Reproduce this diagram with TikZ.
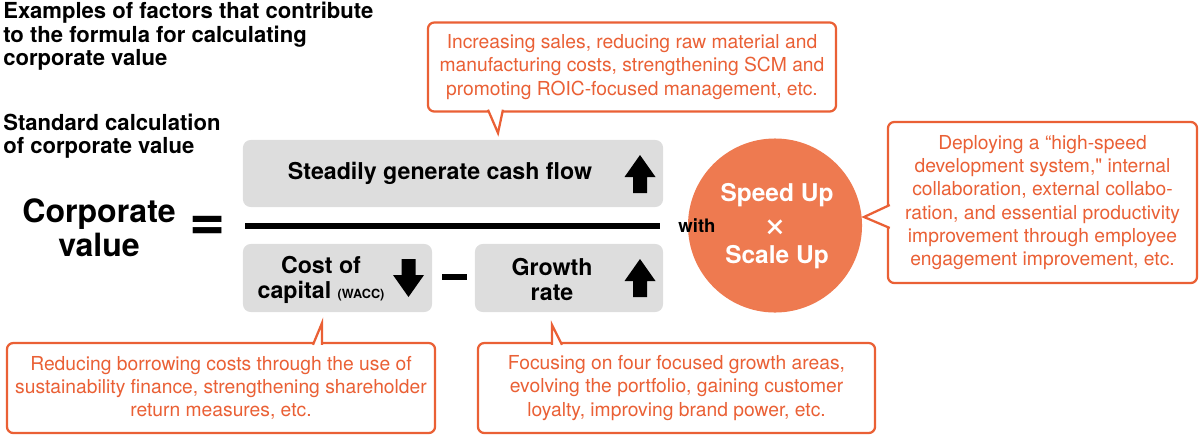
\documentclass[tikz,border=0pt]{standalone}
\usepackage{fontspec}
\setmainfont{TeX Gyre Heros}
\newfontfamily\plainheros{TeX Gyre Heros}
\usetikzlibrary{calc}
\definecolor{noteOrange}{RGB}{234, 96, 53}
\definecolor{discOrange}{RGB}{238, 122, 80}
\definecolor{panelGray}{RGB}{221, 221, 221}

\begin{document}
\begin{tikzpicture}[x=0.025cm, y=-0.025cm,
    panel/.style={fill=panelGray, rounded corners=5.5pt, inner sep=0pt},
    note/.style={draw=noteOrange, line width=1.6pt, fill=white, rounded corners=4.5pt, outer sep=0pt,
      inner sep=0pt, text=noteOrange, align=center, font=\fontsize{13.7}{16.5}\selectfont},
    tail/.style={draw=noteOrange, line width=1.6pt, fill=white, line join=miter},
    heading/.style={anchor=west, align=left, inner sep=0pt, font=\bfseries\fontsize{15.7}{16.7}\selectfont},
    formula/.style={inner sep=0pt, align=center, font=\bfseries\fontsize{16.5}{17.8}\selectfont},
    bar/.style={line width=3.6pt},
    uparrow/.pic={\fill (-7,19) -- (-7,3) -- (-15.5,3) -- (0,-19) -- (15.5,3) -- (7,3) -- (7,19) -- cycle;}]

  \useasboundingbox (0,0) rectangle (1200,435);

  \node[heading] (examples) at (3,36.5) {Examples of factors that contribute\\to the formula for calculating\\corporate value};
  \node[heading] (standard) at (3,136) {Standard calculation\\of corporate value};

  \node[inner sep=0pt, align=center, font=\bfseries\fontsize{22.8}{24}\selectfont] (corpval) at (99,228) {Corporate\\value};
  \node[inner sep=0pt, font=\bfseries\fontsize{44}{44}\selectfont] (eqsign) at (207.5,228) {=};

  \node[panel, minimum width=10.5cm, minimum height=1.675cm] (cashbox) at (453,173.5) {};
  \node[panel, minimum width=4.725cm, minimum height=1.7cm] (costbox) at (337.5,278) {};
  \node[panel, minimum width=4.7cm, minimum height=1.7cm] (growthbox) at (569,278) {};

  \node[formula] (cashtxt) at (440,173) {Steadily generate cash flow};
  \node[formula] (costtxt) at (321,279.5) {Cost of\\capital {\fontsize{9}{9}\selectfont(WACC)}};
  \node[formula] (growthtxt) at (552,279.5) {Growth\\rate};
  \pic at (640,174) {uparrow};
  \pic[yscale=-1] at (408.5,278) {uparrow};
  \pic at (640,278) {uparrow};

  \draw[bar] (245,226) -- (660,226);
  \draw[bar] (442,277) -- (467,277);

  \node[circle, fill=discOrange, minimum size=4.35cm, inner sep=0pt] (disc) at (775,225.5) {};
  \node[inner sep=0pt, text=white, font=\bfseries\fontsize{17.4}{17.4}\selectfont] (speed) at (777,195) {Speed Up};
  \node[inner sep=0pt, text=white, font=\fontsize{29}{29}\selectfont] (times) at (775,229) {×};
  \node[inner sep=0pt, text=white, font=\bfseries\fontsize{17.4}{17.4}\selectfont] (scale) at (777,257) {Scale Up};
  \node[inner sep=0pt, font=\bfseries\fontsize{13.2}{13.2}\selectfont] (with) at (697,226) {with};

  \node[note, minimum width=10.2cm, minimum height=2.225cm] (salesnote) at (632,67)
    {Increasing sales, reducing raw material and\\manufacturing costs, strengthening SCM and\\promoting ROIC-focused management, etc.};
  \coordinate (salestip) at (498,133);
  \draw[tail] ($(salesnote.south west)+(60,-1.8)$) -- (salestip) -- ($(salesnote.south west)+(75,-1.8)$);

  \node[note, minimum width=7.725cm, minimum height=4.025cm] (speednote) at (1042.5,202.5)
    {Deploying a “high-speed\\development system,{\plainheros"} internal\\collaboration, external collabo-\\ration, and essential productivity\\improvement through employee\\engagement improvement, etc.};
  \coordinate (speedtip) at (864,217);
  \draw[tail] ($(speednote.north west)+(1.8,83)$) -- (speedtip) -- ($(speednote.north west)+(1.8,106)$);

  \node[note, minimum width=10.7cm, minimum height=2.25cm] (costnote) at (221,388)
    {Reducing borrowing costs through the use of\\sustainability finance, strengthening shareholder\\return measures, etc.};
  \coordinate (costtip) at (322,323);
  \draw[tail] ($(costnote.north west)+(306,1.8)$) -- (costtip) -- ($(costnote.north west)+(315,1.8)$);

  \node[note, minimum width=9.925cm, minimum height=2.25cm] (growthnote) at (676.5,388)
    {Focusing on four focused growth areas,\\evolving the portfolio, gaining customer\\loyalty, improving brand power, etc.};
  \coordinate (growthtip) at (552,325);
  \draw[tail] ($(growthnote.north west)+(74,1.8)$) -- (growthtip) -- ($(growthnote.north west)+(84,1.8)$);
\end{tikzpicture}
\end{document}
